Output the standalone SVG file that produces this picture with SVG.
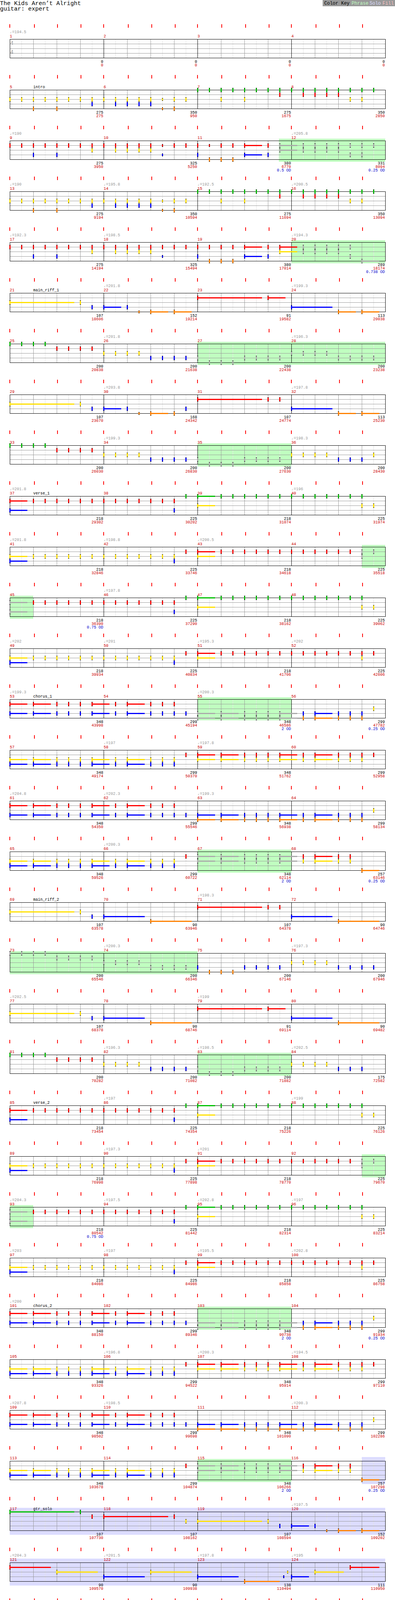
<svg xmlns="http://www.w3.org/2000/svg" width="1010" height="5055" viewBox="0 0 1010 5055">
<style>
text{font-family:"Liberation Mono","DejaVu Sans Mono",monospace;font-size:10px}
.m{fill:#c00}.p{fill:#999}.a{text-anchor:end}.b{text-anchor:end;fill:#c00}.d{text-anchor:end;fill:#00c}.e{text-anchor:end;fill:#060}
.ts{fill:#999;font-size:14px}.big{font-size:15px}.ck{font-size:12px}.ft{font-size:11.6px}
.G{fill:#00c000;stroke:#00c000}.R{fill:#f00;stroke:#f00}.Y{fill:#ffe000;stroke:#ffe000}.B{fill:#00f;stroke:#00f}.O{fill:#ff8000;stroke:#ff8000}.X{fill:#aaa;stroke:#aaa}
.s{stroke-width:3;fill:none}
.hp{fill:#c0ffc0}.hs{fill:#dcdcff}
</style>
<defs>
<g id="h" stroke="none"><rect x="-1" y="-5.5" width="3" height="11" fill="#000"/><rect x="-1" y="-4.5" width="3" height="9"/></g>
<g id="k" stroke="none"><rect x="-1" y="-3.5" width="3" height="7" fill="#000"/><rect x="-1" y="-2.5" width="3" height="5"/></g>
<g id="q"><path class="s" d="M0 0h45"/><use href="#h"/></g>
<g id="e4"><use href="#h"/><use href="#h" x="30"/><use href="#h" x="60"/><use href="#h" x="90"/></g>
<g id="e8"><use href="#e4"/><use href="#e4" x="120"/></g>
<g id="staff" fill="none">
<path stroke="#e2e2e2" d="M55.5 0v48M115.5 0v48M175.5 0v48M235.5 0v48M295.5 0v48M355.5 0v48M415.5 0v48M475.5 0v48M535.5 0v48M595.5 0v48M655.5 0v48M715.5 0v48M775.5 0v48M835.5 0v48M895.5 0v48M955.5 0v48"/>
<path stroke="#999" d="M85.5 0v48M145.5 0v48M205.5 0v48M325.5 0v48M385.5 0v48M445.5 0v48M565.5 0v48M625.5 0v48M685.5 0v48M805.5 0v48M865.5 0v48M925.5 0v48M25 12.5h960M25 24.5h960M25 36.5h960"/>
<path stroke="#000" d="M265.5 0v48M505.5 0v48M745.5 0v48"/>
<rect x="25.5" y="0.5" width="960" height="48" stroke="#000"/>
</g>
<path id="tk" stroke="#f00" stroke-width="2" d="M25-38v9M88-38v9M147-38v9M207-38v9M265-38v9M328-38v9M388-38v9M448-38v9M505-38v9M567-38v9M628-38v9M688-38v9M745-38v9M808-38v9M868-38v9M927-38v9"/>
<g id="pI">
<g class="G" transform="translate(0 .5)"><use href="#e8" x="505"/><use href="#e8" x="745"/></g>
<g class="R" transform="translate(0 12.5)"><use href="#h" x="715"/><use href="#e4" x="775"/></g>
<g class="Y" transform="translate(0 24.5)"><use href="#e8" x="25"/><use href="#e4" x="265"/><use href="#h" x="385"/><use href="#k" x="415"/><use href="#h" x="445"/><use href="#h" x="475"/><use href="#h" x="565"/><use href="#h" x="625"/><use href="#h" x="895"/><use href="#h" x="925"/></g>
<g class="B" transform="translate(0 36.5)"><use href="#h" x="235"/><use href="#e4" x="295"/></g>
<g class="O" transform="translate(0 48.5)"><use href="#h" x="85"/><use href="#h" x="145"/><use href="#k" x="415"/><use href="#h" x="445"/></g>
</g>
<g id="pQ">
<g class="G" transform="translate(0 .5)"><use href="#e4" x="25"/></g>
<g class="R" transform="translate(0 12.5)"><use href="#e4" x="145"/></g>
<g class="Y" transform="translate(0 24.5)"><use href="#e4" x="265"/></g>
<g class="B" transform="translate(0 36.5)"><use href="#e4" x="385"/></g>
<g class="X" transform="translate(0 36.5)"><use href="#h" x="505"/><use href="#e4" x="625"/></g>
<g class="X" transform="translate(0 48.5)"><use href="#h" x="535"/><use href="#h" x="565"/><use href="#h" x="595"/></g>
</g>
<g id="pVa">
<g class="R" transform="translate(0 12.5)"><use href="#q" x="25"/><use href="#e8" x="85"/><use href="#e4" x="325"/><use href="#h" x="445"/></g>
<g class="B" transform="translate(0 36.5)"><use href="#q" x="25"/><use href="#h" x="445"/></g>
<g class="G" transform="translate(0 .5)"><use href="#h" x="475"/><use href="#q" x="505"/><use href="#e8" x="565"/><use href="#e4" x="805"/><use href="#h" x="925"/></g>
<g class="Y" transform="translate(0 24.5)"><use href="#q" x="505"/><use href="#h" x="925"/><use href="#h" x="955"/></g>
</g>
<g id="pVb">
<g class="Y" transform="translate(0 24.5)"><use href="#q" x="25"/><use href="#e8" x="85"/><use href="#e4" x="325"/><use href="#h" x="445"/><use href="#q" x="505"/></g>
<g class="B" transform="translate(0 36.5)"><use href="#q" x="25"/><use href="#h" x="445"/></g>
<g class="R" transform="translate(0 12.5)"><use href="#h" x="475"/><use href="#q" x="505"/><use href="#e8" x="565"/><use href="#e4" x="805"/></g>
<g class="X" transform="translate(0 12.5)"><use href="#h" x="925"/><use href="#h" x="955"/></g>
<g class="X" transform="translate(0 24.5)"><use href="#h" x="925"/></g>
</g>
<g id="pVc">
<g class="X" transform="translate(0 12.5)"><use href="#q" x="25"/></g>
<g class="X" transform="translate(0 36.5)"><use href="#q" x="25"/></g>
<g class="R" transform="translate(0 12.5)"><use href="#e8" x="85"/><use href="#e4" x="325"/><use href="#h" x="445"/></g>
<g class="B" transform="translate(0 36.5)"><use href="#h" x="445"/></g>
<g class="G" transform="translate(0 .5)"><use href="#h" x="475"/><use href="#q" x="505"/><use href="#e8" x="565"/><use href="#e4" x="805"/><use href="#h" x="925"/></g>
<g class="Y" transform="translate(0 24.5)"><use href="#q" x="505"/><use href="#h" x="925"/><use href="#h" x="955"/></g>
</g>
<g id="pVd">
<g class="Y" transform="translate(0 24.5)"><use href="#q" x="25"/><use href="#e8" x="85"/><use href="#e4" x="325"/><use href="#h" x="445"/><use href="#q" x="505"/><use href="#h" x="925"/></g>
<g class="B" transform="translate(0 36.5)"><use href="#q" x="25"/><use href="#h" x="445"/></g>
<g class="R" transform="translate(0 12.5)"><use href="#h" x="475"/><use href="#q" x="505"/><use href="#e8" x="565"/><use href="#e4" x="805"/><use href="#h" x="925"/><use href="#h" x="955"/></g>
</g>
<g id="cA"><use href="#q" x="25"/><use href="#q" x="85"/><use href="#h" x="145"/><use href="#h" x="175"/><use href="#h" x="205"/><use href="#q" x="235"/><use href="#h" x="295"/><use href="#q" x="325"/><use href="#h" x="385"/><use href="#h" x="415"/><use href="#h" x="445"/></g>
<g id="cB1"><use href="#q" x="505"/><use href="#q" x="565"/><use href="#h" x="625"/><use href="#h" x="655"/><use href="#h" x="685"/><use href="#q" x="715"/></g>
<g id="cB2"><use href="#h" x="775"/><use href="#q" x="805"/><use href="#h" x="865"/><use href="#h" x="895"/><use href="#h" x="925"/></g>
<g id="pC13">
<g class="R" transform="translate(0 12.5)"><use href="#cA"/></g>
<g class="B" transform="translate(0 36.5)"><use href="#cA"/><use href="#h" x="475"/><use href="#cB2"/></g>
<g class="X" transform="translate(0 36.5)"><use href="#cB1"/></g>
<g class="X" transform="translate(0 48.5)"><use href="#cB1"/></g>
<g class="O" transform="translate(0 48.5)"><use href="#cB2"/></g>
<g class="Y" transform="translate(0 24.5)"><use href="#h" x="955"/></g>
</g>
<g id="pC14">
<g class="Y" transform="translate(0 24.5)"><use href="#cA"/><use href="#cB1"/><use href="#cB2"/></g>
<g class="B" transform="translate(0 36.5)"><use href="#cA"/></g>
<g class="R" transform="translate(0 12.5)"><use href="#h" x="475"/><use href="#cB1"/><use href="#cB2"/><use href="#h" x="955"/></g>
</g>
<g id="pC15">
<g class="R" transform="translate(0 12.5)"><use href="#cA"/></g>
<g class="B" transform="translate(0 36.5)"><use href="#cA"/><use href="#h" x="475"/><use href="#cB1"/><use href="#cB2"/></g>
<g class="O" transform="translate(0 48.5)"><use href="#cB1"/><use href="#cB2"/></g>
<g class="Y" transform="translate(0 24.5)"><use href="#h" x="955"/></g>
</g>
<g id="pC16">
<g class="Y" transform="translate(0 24.5)"><use href="#cA"/><use href="#h" x="775"/><use href="#q" x="805"/><use href="#h" x="865"/><use href="#h" x="895"/></g>
<g class="B" transform="translate(0 36.5)"><use href="#cA"/></g>
<g class="R" transform="translate(0 12.5)"><use href="#h" x="475"/><use href="#h" x="775"/><use href="#q" x="805"/><use href="#h" x="865"/><use href="#h" x="895"/></g>
<g class="X" transform="translate(0 12.5)"><use href="#cB1"/></g>
<g class="X" transform="translate(0 24.5)"><use href="#cB1"/></g>
<g class="O" transform="translate(0 48.5)"><use href="#q" x="925"/></g>
</g>
<g id="pE">
<g class="B" transform="translate(0 36.5)"><use href="#q" x="85"/><use href="#q" x="205"/><use href="#q" x="325"/><use href="#q" x="445"/><use href="#q" x="565"/><use href="#q" x="685"/><use href="#q" x="805"/><use href="#q" x="925"/></g>
<g class="O" transform="translate(0 48.5)"><use href="#q" x="25"/><use href="#q" x="145"/><use href="#q" x="265"/><use href="#q" x="385"/><use href="#q" x="505"/><use href="#q" x="625"/><use href="#q" x="745"/><use href="#q" x="865"/></g>
</g>
<g id="pR"><use href="#q" x="25"/><use href="#h" x="85"/><use href="#q" x="145"/><use href="#h" x="205"/><use href="#q" x="265"/><use href="#h" x="325"/><use href="#q" x="385"/><use href="#h" x="445"/><use href="#q" x="505"/><use href="#h" x="565"/><use href="#q" x="625"/><use href="#h" x="685"/></g>
<g id="pG"><use href="#h" x="115"/><use href="#h" x="235"/><use href="#h" x="355"/><use href="#h" x="475"/><use href="#h" x="595"/><use href="#h" x="715"/></g>
</defs>
<rect width="1010" height="5055" fill="#fff"/>
<g id="header">
<text class="big" x="0" y="13">The Kids Aren’t Alright</text>
<text class="big" x="0" y="27">guitar: expert</text>
<rect x="825" y="0" width="185" height="16" fill="#999"/>
<text class="ck" x="829" y="12">Color Key</text><text class="ck" x="899" y="12" fill="#c0ffc0">Phrase</text><text class="ck" x="945" y="12" fill="#dcdcff">Solo</text><text class="ck" x="978" y="12" fill="#ffc0c0">Fill</text>
</g>

<g id="r0" transform="translate(0 100)"><use href="#staff"/><use href="#tk"/>
<text class="ts" x="26" y="15">4</text><text class="ts" x="26" y="38">4</text>
<text class="p" x="25" y="-15">♩=194.5</text>
<text class="m" x="25" y="-4">1</text><text class="m" x="265" y="-4">2</text><text class="m" x="505" y="-4">3</text><text class="m" x="745" y="-4">4</text>
<text class="a" x="264" y="61">0</text><text class="b" x="264" y="70">0</text><text class="a" x="504" y="61">0</text><text class="b" x="504" y="70">0</text><text class="a" x="744" y="61">0</text><text class="b" x="744" y="70">0</text><text class="a" x="984" y="61">0</text><text class="b" x="984" y="70">0</text>
</g>

<g id="r1" transform="translate(0 230)"><use href="#staff"/><use href="#tk"/><use href="#pI"/>
<text x="85" y="-4">intro</text>
<text class="m" x="25" y="-4">5</text><text class="m" x="265" y="-4">6</text><text class="m" x="505" y="-4">7</text><text class="m" x="745" y="-4">8</text>
<text class="a" x="264" y="61">275</text><text class="b" x="264" y="70">275</text><text class="a" x="504" y="61">350</text><text class="b" x="504" y="70">950</text><text class="a" x="744" y="61">275</text><text class="b" x="744" y="70">1675</text><text class="a" x="984" y="61">350</text><text class="b" x="984" y="70">2850</text>
</g>

<g id="r2" transform="translate(0 360)"><rect class="hp" x="713" y="-5" width="272" height="59"/><use href="#staff"/><use href="#tk"/>
<g class="R" transform="translate(0 12.5)"><use href="#e8" x="25"/><use href="#e4" x="265"/><use href="#h" x="385"/><use href="#k" x="415"/><use href="#h" x="445"/><use href="#h" x="475"/><use href="#h" x="505"/><use href="#k" x="535"/><use href="#h" x="565"/><use href="#h" x="595"/><use href="#q" x="625"/><use href="#h" x="685"/></g>
<g class="Y" transform="translate(0 24.5)"><use href="#h" x="235"/><use href="#e4" x="295"/></g>
<g class="B" transform="translate(0 36.5)"><use href="#h" x="85"/><use href="#h" x="145"/><use href="#k" x="415"/><use href="#h" x="505"/><use href="#q" x="625"/><use href="#h" x="685"/></g>
<g class="O" transform="translate(0 48.5)"><use href="#h" x="535"/><use href="#h" x="565"/><use href="#h" x="595"/></g>
<g class="X" transform="translate(0 12.5)"><use href="#q" x="715"/><use href="#e4" x="775"/><use href="#h" x="895"/><use href="#h" x="925"/><use href="#h" x="955"/></g>
<g class="X" transform="translate(0 24.5)"><use href="#q" x="715"/><use href="#e4" x="775"/></g>
<g class="X" transform="translate(0 36.5)"><use href="#h" x="895"/><use href="#h" x="925"/></g>
<text class="p" x="25" y="-15">♩=190</text><text class="p" x="745" y="-15">♩=205.8</text>
<text class="m" x="25" y="-4">9</text><text class="m" x="265" y="-4">10</text><text class="m" x="505" y="-4">11</text><text class="m" x="745" y="-4">12</text>
<text class="a" x="264" y="61">275</text><text class="b" x="264" y="70">3950</text><text class="a" x="504" y="61">325</text><text class="b" x="504" y="70">5250</text><text class="a" x="744" y="61">380</text><text class="b" x="744" y="70">6770</text><text class="d" x="744" y="79">0.5 OD</text><text class="a" x="984" y="61">331</text><text class="b" x="984" y="70">8094</text><text class="d" x="984" y="79">0.25 OD</text>
</g>

<g id="r3" transform="translate(0 490)"><use href="#staff"/><use href="#tk"/><use href="#pI"/>
<text class="p" x="25" y="-15">♩=190</text><text class="p" x="265" y="-15">♩=195.8</text><text class="p" x="505" y="-15">♩=192.5</text><text class="p" x="745" y="-15">♩=200.5</text>
<text class="m" x="25" y="-4">13</text><text class="m" x="265" y="-4">14</text><text class="m" x="505" y="-4">15</text><text class="m" x="745" y="-4">16</text>
<text class="a" x="264" y="61">275</text><text class="b" x="264" y="70">9194</text><text class="a" x="504" y="61">350</text><text class="b" x="504" y="70">10594</text><text class="a" x="744" y="61">275</text><text class="b" x="744" y="70">11694</text><text class="a" x="984" y="61">350</text><text class="b" x="984" y="70">13094</text>
</g>

<g id="r4" transform="translate(0 620)"><rect class="hp" x="745" y="-5" width="240" height="59"/><use href="#staff"/><use href="#tk"/>
<g class="R" transform="translate(0 12.5)"><use href="#e8" x="25"/><use href="#e8" x="265"/><use href="#e4" x="505"/><use href="#q" x="625"/><use href="#h" x="685"/><use href="#q" x="715"/></g>
<g class="Y" transform="translate(0 24.5)"><use href="#h" x="235"/><use href="#e4" x="295"/><use href="#q" x="715"/></g>
<g class="B" transform="translate(0 36.5)"><use href="#h" x="85"/><use href="#h" x="145"/><use href="#k" x="415"/><use href="#h" x="505"/><use href="#q" x="625"/><use href="#h" x="685"/></g>
<g class="O" transform="translate(0 48.5)"><use href="#h" x="535"/><use href="#h" x="565"/><use href="#h" x="595"/></g>
<g class="X" transform="translate(0 12.5)"><use href="#e4" x="775"/><use href="#h" x="895"/></g>
<g class="X" transform="translate(0 24.5)"><use href="#e4" x="775"/></g>
<g class="X" transform="translate(0 36.5)"><use href="#h" x="895"/></g>
<g class="X" transform="translate(0 48.5)"><use href="#q" x="925"/></g>
<text class="p" x="25" y="-15">♩=192.3</text><text class="p" x="265" y="-15">♩=198.5</text><text class="p" x="745" y="-15">♩=194.3</text>
<text class="m" x="25" y="-4">17</text><text class="m" x="265" y="-4">18</text><text class="m" x="505" y="-4">19</text><text class="m" x="745" y="-4">20</text>
<text class="a" x="264" y="61">275</text><text class="b" x="264" y="70">14194</text><text class="a" x="504" y="61">325</text><text class="b" x="504" y="70">15494</text><text class="a" x="744" y="61">380</text><text class="b" x="744" y="70">17014</text><text class="a" x="984" y="61">289</text><text class="b" x="984" y="70">18174</text><text class="d" x="984" y="79">0.738 OD</text>
</g>

<g id="r5" transform="translate(0 750)"><use href="#staff"/><use href="#tk"/>
<g class="Y" transform="translate(0 24.5)"><path class="s" d="M25 0h165"/><use href="#h" x="25"/><use href="#h" x="205"/></g>
<g class="B" transform="translate(0 36.5)"><path class="s" d="M745 0h105"/><use href="#h" x="235"/><use href="#q" x="265"/><use href="#h" x="325"/><use href="#h" x="745"/></g>
<g class="O" transform="translate(0 48.5)"><use href="#k" x="355"/><use href="#q" x="385"/><use href="#q" x="445"/><use href="#q" x="865"/><use href="#q" x="925"/></g>
<g class="R" transform="translate(0 12.5)"><path class="s" d="M505 0h165"/><use href="#h" x="505"/><use href="#q" x="685"/></g>
<text x="85" y="-4">main_riff_1</text>
<text class="p" x="265" y="-15">♩=201.8</text><text class="p" x="745" y="-15">♩=199.3</text>
<text class="m" x="25" y="-4">21</text><text class="m" x="265" y="-4">22</text><text class="m" x="505" y="-4">23</text><text class="m" x="745" y="-4">24</text>
<text class="a" x="264" y="61">107</text><text class="b" x="264" y="70">18606</text><text class="a" x="504" y="61">152</text><text class="b" x="504" y="70">19214</text><text class="a" x="744" y="61">91</text><text class="b" x="744" y="70">19582</text><text class="a" x="984" y="61">113</text><text class="b" x="984" y="70">20038</text>
</g>

<g id="r6" transform="translate(0 880)"><rect class="hp" x="505" y="-5" width="480" height="59"/><use href="#staff"/><use href="#tk"/><use href="#pQ"/>
<g class="X" transform="translate(0 24.5)"><use href="#e4" x="745"/></g>
<g class="X" transform="translate(0 36.5)"><use href="#e4" x="865"/></g>
<text class="p" x="265" y="-15">♩=201.8</text><text class="p" x="745" y="-15">♩=196.3</text>
<text class="m" x="25" y="-4">25</text><text class="m" x="265" y="-4">26</text><text class="m" x="505" y="-4">27</text><text class="m" x="745" y="-4">28</text>
<text class="a" x="264" y="61">200</text><text class="b" x="264" y="70">20838</text><text class="a" x="504" y="61">200</text><text class="b" x="504" y="70">21638</text><text class="a" x="744" y="61">200</text><text class="b" x="744" y="70">22438</text><text class="a" x="984" y="61">200</text><text class="b" x="984" y="70">23238</text>
</g>

<g id="r7" transform="translate(0 1010)"><use href="#staff"/><use href="#tk"/>
<g class="Y" transform="translate(0 24.5)"><path class="s" d="M25 0h165"/><use href="#h" x="25"/><use href="#h" x="205"/></g>
<g class="B" transform="translate(0 36.5)"><path class="s" d="M745 0h105"/><use href="#h" x="235"/><use href="#q" x="265"/><use href="#h" x="325"/><use href="#h" x="475"/><use href="#h" x="745"/></g>
<g class="O" transform="translate(0 48.5)"><use href="#k" x="355"/><use href="#q" x="385"/><use href="#h" x="445"/><use href="#q" x="865"/><use href="#q" x="925"/></g>
<g class="R" transform="translate(0 12.5)"><path class="s" d="M505 0h165"/><use href="#h" x="505"/><use href="#h" x="685"/><use href="#h" x="715"/></g>
<text class="p" x="265" y="-15">♩=203.8</text><text class="p" x="745" y="-15">♩=197.8</text>
<text class="m" x="25" y="-4">29</text><text class="m" x="265" y="-4">30</text><text class="m" x="505" y="-4">31</text><text class="m" x="745" y="-4">32</text>
<text class="a" x="264" y="61">107</text><text class="b" x="264" y="70">23670</text><text class="a" x="504" y="61">168</text><text class="b" x="504" y="70">24342</text><text class="a" x="744" y="61">107</text><text class="b" x="744" y="70">24774</text><text class="a" x="984" y="61">113</text><text class="b" x="984" y="70">25230</text>
</g>

<g id="r8" transform="translate(0 1140)"><rect class="hp" x="505" y="-5" width="240" height="59"/><use href="#staff"/><use href="#tk"/><use href="#pQ"/>
<g class="Y" transform="translate(0 24.5)"><use href="#e4" x="745"/><use href="#h" x="955"/></g>
<g class="B" transform="translate(0 36.5)"><use href="#h" x="865"/><use href="#h" x="895"/><use href="#h" x="925"/></g>
<text class="p" x="265" y="-15">♩=199.3</text><text class="p" x="745" y="-15">♩=198.3</text>
<text class="m" x="25" y="-4">33</text><text class="m" x="265" y="-4">34</text><text class="m" x="505" y="-4">35</text><text class="m" x="745" y="-4">36</text>
<text class="a" x="264" y="61">200</text><text class="b" x="264" y="70">26030</text><text class="a" x="504" y="61">200</text><text class="b" x="504" y="70">26830</text><text class="a" x="744" y="61">200</text><text class="b" x="744" y="70">27630</text><text class="a" x="984" y="61">200</text><text class="b" x="984" y="70">28430</text>
</g>

<g id="r9" transform="translate(0 1270)"><use href="#staff"/><use href="#tk"/><use href="#pVa"/>
<text x="85" y="-4">verse_1</text>
<text class="p" x="25" y="-15">♩=201.8</text><text class="p" x="745" y="-15">♩=196</text>
<text class="m" x="25" y="-4">37</text><text class="m" x="265" y="-4">38</text><text class="m" x="505" y="-4">39</text><text class="m" x="745" y="-4">40</text>
<text class="a" x="264" y="61">218</text><text class="b" x="264" y="70">29302</text><text class="a" x="504" y="61">225</text><text class="b" x="504" y="70">30202</text><text class="a" x="744" y="61">218</text><text class="b" x="744" y="70">31074</text><text class="a" x="984" y="61">225</text><text class="b" x="984" y="70">31974</text>
</g>

<g id="r10" transform="translate(0 1400)"><rect class="hp" x="925" y="-5" width="60" height="59"/><use href="#staff"/><use href="#tk"/><use href="#pVb"/>
<text class="p" x="25" y="-15">♩=201.8</text><text class="p" x="265" y="-15">♩=198.8</text><text class="p" x="505" y="-15">♩=200.5</text>
<text class="m" x="25" y="-4">41</text><text class="m" x="265" y="-4">42</text><text class="m" x="505" y="-4">43</text><text class="m" x="745" y="-4">44</text>
<text class="a" x="264" y="61">218</text><text class="b" x="264" y="70">32846</text><text class="a" x="504" y="61">225</text><text class="b" x="504" y="70">33746</text><text class="a" x="744" y="61">218</text><text class="b" x="744" y="70">34618</text><text class="a" x="984" y="61">225</text><text class="b" x="984" y="70">35518</text>
</g>

<g id="r11" transform="translate(0 1530)"><rect class="hp" x="25" y="-5" width="60" height="59"/><use href="#staff"/><use href="#tk"/><use href="#pVc"/>
<text class="p" x="265" y="-15">♩=197.8</text>
<text class="m" x="25" y="-4">45</text><text class="m" x="265" y="-4">46</text><text class="m" x="505" y="-4">47</text><text class="m" x="745" y="-4">48</text>
<text class="a" x="264" y="61">218</text><text class="b" x="264" y="70">36390</text><text class="d" x="264" y="79">0.75 OD</text><text class="a" x="504" y="61">225</text><text class="b" x="504" y="70">37290</text><text class="a" x="744" y="61">218</text><text class="b" x="744" y="70">38162</text><text class="a" x="984" y="61">225</text><text class="b" x="984" y="70">39062</text>
</g>

<g id="r12" transform="translate(0 1660)"><use href="#staff"/><use href="#tk"/><use href="#pVd"/>
<text class="p" x="25" y="-15">♩=202</text><text class="p" x="265" y="-15">♩=201</text><text class="p" x="505" y="-15">♩=195.3</text><text class="p" x="745" y="-15">♩=202</text>
<text class="m" x="25" y="-4">49</text><text class="m" x="265" y="-4">50</text><text class="m" x="505" y="-4">51</text><text class="m" x="745" y="-4">52</text>
<text class="a" x="264" y="61">218</text><text class="b" x="264" y="70">39934</text><text class="a" x="504" y="61">225</text><text class="b" x="504" y="70">40834</text><text class="a" x="744" y="61">218</text><text class="b" x="744" y="70">41706</text><text class="a" x="984" y="61">225</text><text class="b" x="984" y="70">42606</text>
</g>

<g id="r13" transform="translate(0 1790)"><rect class="hp" x="505" y="-5" width="240" height="59"/><use href="#staff"/><use href="#tk"/><use href="#pC13"/>
<text x="85" y="-4">chorus_1</text>
<text class="p" x="25" y="-15">♩=199.3</text><text class="p" x="505" y="-15">♩=200.3</text>
<text class="m" x="25" y="-4">53</text><text class="m" x="265" y="-4">54</text><text class="m" x="505" y="-4">55</text><text class="m" x="745" y="-4">56</text>
<text class="a" x="264" y="61">348</text><text class="b" x="264" y="70">43998</text><text class="a" x="504" y="61">299</text><text class="b" x="504" y="70">45194</text><text class="a" x="744" y="61">348</text><text class="b" x="744" y="70">46586</text><text class="d" x="744" y="79">2 OD</text><text class="a" x="984" y="61">299</text><text class="b" x="984" y="70">47782</text><text class="d" x="984" y="79">0.25 OD</text>
</g>

<g id="r14" transform="translate(0 1920)"><use href="#staff"/><use href="#tk"/><use href="#pC14"/>
<text class="p" x="265" y="-15">♩=197</text><text class="p" x="505" y="-15">♩=197.8</text>
<text class="m" x="25" y="-4">57</text><text class="m" x="265" y="-4">58</text><text class="m" x="505" y="-4">59</text><text class="m" x="745" y="-4">60</text>
<text class="a" x="264" y="61">348</text><text class="b" x="264" y="70">49174</text><text class="a" x="504" y="61">299</text><text class="b" x="504" y="70">50370</text><text class="a" x="744" y="61">348</text><text class="b" x="744" y="70">51762</text><text class="a" x="984" y="61">299</text><text class="b" x="984" y="70">52958</text>
</g>

<g id="r15" transform="translate(0 2050)"><use href="#staff"/><use href="#tk"/><use href="#pC15"/>
<text class="p" x="25" y="-15">♩=204.8</text><text class="p" x="265" y="-15">♩=202.3</text><text class="p" x="505" y="-15">♩=199.3</text>
<text class="m" x="25" y="-4">61</text><text class="m" x="265" y="-4">62</text><text class="m" x="505" y="-4">63</text><text class="m" x="745" y="-4">64</text>
<text class="a" x="264" y="61">348</text><text class="b" x="264" y="70">54350</text><text class="a" x="504" y="61">299</text><text class="b" x="504" y="70">55546</text><text class="a" x="744" y="61">348</text><text class="b" x="744" y="70">56938</text><text class="a" x="984" y="61">299</text><text class="b" x="984" y="70">58134</text>
</g>

<g id="r16" transform="translate(0 2180)"><rect class="hp" x="505" y="-5" width="240" height="59"/><use href="#staff"/><use href="#tk"/><use href="#pC16"/>
<text class="p" x="265" y="-15">♩=200.3</text>
<text class="m" x="25" y="-4">65</text><text class="m" x="265" y="-4">66</text><text class="m" x="505" y="-4">67</text><text class="m" x="745" y="-4">68</text>
<text class="a" x="264" y="61">348</text><text class="b" x="264" y="70">59526</text><text class="a" x="504" y="61">299</text><text class="b" x="504" y="70">60722</text><text class="a" x="744" y="61">348</text><text class="b" x="744" y="70">62114</text><text class="d" x="744" y="79">2 OD</text><text class="a" x="984" y="61">257</text><text class="b" x="984" y="70">63146</text><text class="d" x="984" y="79">0.25 OD</text>
</g>

<g id="r17" transform="translate(0 2310)"><use href="#staff"/><use href="#tk"/>
<g class="Y" transform="translate(0 24.5)"><path class="s" d="M25 0h165"/><use href="#h" x="25"/><use href="#h" x="205"/></g>
<g class="B" transform="translate(0 36.5)"><path class="s" d="M265 0h105M745 0h105"/><use href="#h" x="235"/><use href="#h" x="265"/><use href="#h" x="745"/></g>
<g class="O" transform="translate(0 48.5)"><path class="s" d="M385 0h105M865 0h105"/><use href="#h" x="385"/><use href="#h" x="865"/></g>
<g class="R" transform="translate(0 12.5)"><path class="s" d="M505 0h165"/><use href="#h" x="505"/><use href="#h" x="685"/><use href="#h" x="715"/></g>
<text x="85" y="-4">main_riff_2</text>
<text class="p" x="505" y="-15">♩=198.3</text>
<text class="m" x="25" y="-4">69</text><text class="m" x="265" y="-4">70</text><text class="m" x="505" y="-4">71</text><text class="m" x="745" y="-4">72</text>
<text class="a" x="264" y="61">107</text><text class="b" x="264" y="70">63578</text><text class="a" x="504" y="61">90</text><text class="b" x="504" y="70">63946</text><text class="a" x="744" y="61">107</text><text class="b" x="744" y="70">64378</text><text class="a" x="984" y="61">90</text><text class="b" x="984" y="70">64746</text>
</g>

<g id="r18" transform="translate(0 2440)"><rect class="hp" x="25" y="-5" width="480" height="59"/><use href="#staff"/><use href="#tk"/>
<g class="X" transform="translate(0 .5)"><use href="#e4" x="25"/></g>
<g class="X" transform="translate(0 12.5)"><use href="#e4" x="145"/></g>
<g class="X" transform="translate(0 24.5)"><use href="#e4" x="265"/></g>
<g class="X" transform="translate(0 36.5)"><use href="#e4" x="385"/></g>
<g class="B" transform="translate(0 36.5)"><use href="#h" x="505"/><use href="#e4" x="625"/><use href="#e4" x="865"/></g>
<g class="O" transform="translate(0 48.5)"><use href="#h" x="535"/><use href="#h" x="565"/><use href="#h" x="595"/></g>
<g class="Y" transform="translate(0 24.5)"><use href="#e4" x="745"/></g>
<text class="p" x="265" y="-15">♩=200.3</text><text class="p" x="745" y="-15">♩=197.3</text>
<text class="m" x="25" y="-4">73</text><text class="m" x="265" y="-4">74</text><text class="m" x="505" y="-4">75</text><text class="m" x="745" y="-4">76</text>
<text class="a" x="264" y="61">200</text><text class="b" x="264" y="70">65546</text><text class="a" x="504" y="61">200</text><text class="b" x="504" y="70">66346</text><text class="a" x="744" y="61">200</text><text class="b" x="744" y="70">67146</text><text class="a" x="984" y="61">200</text><text class="b" x="984" y="70">67946</text>
</g>

<g id="r19" transform="translate(0 2570)"><use href="#staff"/><use href="#tk"/>
<g class="Y" transform="translate(0 24.5)"><path class="s" d="M25 0h165"/><use href="#h" x="25"/><use href="#h" x="205"/></g>
<g class="B" transform="translate(0 36.5)"><path class="s" d="M265 0h105M745 0h105"/><use href="#h" x="235"/><use href="#h" x="265"/><use href="#h" x="745"/></g>
<g class="O" transform="translate(0 48.5)"><path class="s" d="M385 0h105M865 0h105"/><use href="#h" x="385"/><use href="#h" x="865"/></g>
<g class="R" transform="translate(0 12.5)"><path class="s" d="M505 0h165"/><use href="#h" x="505"/><use href="#q" x="685"/></g>
<text class="p" x="25" y="-15">♩=202.5</text><text class="p" x="505" y="-15">♩=199</text>
<text class="m" x="25" y="-4">77</text><text class="m" x="265" y="-4">78</text><text class="m" x="505" y="-4">79</text><text class="m" x="745" y="-4">80</text>
<text class="a" x="264" y="61">107</text><text class="b" x="264" y="70">68378</text><text class="a" x="504" y="61">90</text><text class="b" x="504" y="70">68746</text><text class="a" x="744" y="61">91</text><text class="b" x="744" y="70">69114</text><text class="a" x="984" y="61">90</text><text class="b" x="984" y="70">69482</text>
</g>

<g id="r20" transform="translate(0 2700)"><rect class="hp" x="505" y="-5" width="240" height="59"/><use href="#staff"/><use href="#tk"/><use href="#pQ"/>
<g class="Y" transform="translate(0 24.5)"><use href="#e4" x="745"/></g>
<g class="B" transform="translate(0 36.5)"><use href="#h" x="865"/><use href="#h" x="895"/><use href="#h" x="925"/></g>
<text class="p" x="265" y="-15">♩=196.3</text><text class="p" x="505" y="-15">♩=198.5</text><text class="p" x="745" y="-15">♩=202.5</text>
<text class="m" x="25" y="-4">81</text><text class="m" x="265" y="-4">82</text><text class="m" x="505" y="-4">83</text><text class="m" x="745" y="-4">84</text>
<text class="a" x="264" y="61">200</text><text class="b" x="264" y="70">70282</text><text class="a" x="504" y="61">200</text><text class="b" x="504" y="70">71082</text><text class="a" x="744" y="61">200</text><text class="b" x="744" y="70">71882</text><text class="a" x="984" y="61">175</text><text class="b" x="984" y="70">72582</text>
</g>

<g id="r21" transform="translate(0 2830)"><use href="#staff"/><use href="#tk"/><use href="#pVa"/>
<text x="85" y="-4">verse_2</text>
<text class="p" x="265" y="-15">♩=197</text><text class="p" x="745" y="-15">♩=199</text>
<text class="m" x="25" y="-4">85</text><text class="m" x="265" y="-4">86</text><text class="m" x="505" y="-4">87</text><text class="m" x="745" y="-4">88</text>
<text class="a" x="264" y="61">218</text><text class="b" x="264" y="70">73454</text><text class="a" x="504" y="61">225</text><text class="b" x="504" y="70">74354</text><text class="a" x="744" y="61">218</text><text class="b" x="744" y="70">75226</text><text class="a" x="984" y="61">225</text><text class="b" x="984" y="70">76126</text>
</g>

<g id="r22" transform="translate(0 2960)"><rect class="hp" x="925" y="-5" width="60" height="59"/><use href="#staff"/><use href="#tk"/><use href="#pVb"/>
<text class="p" x="265" y="-15">♩=197.3</text><text class="p" x="505" y="-15">♩=201</text>
<text class="m" x="25" y="-4">89</text><text class="m" x="265" y="-4">90</text><text class="m" x="505" y="-4">91</text><text class="m" x="745" y="-4">92</text>
<text class="a" x="264" y="61">218</text><text class="b" x="264" y="70">76998</text><text class="a" x="504" y="61">225</text><text class="b" x="504" y="70">77898</text><text class="a" x="744" y="61">218</text><text class="b" x="744" y="70">78770</text><text class="a" x="984" y="61">225</text><text class="b" x="984" y="70">79670</text>
</g>

<g id="r23" transform="translate(0 3090)"><rect class="hp" x="25" y="-5" width="60" height="59"/><use href="#staff"/><use href="#tk"/><use href="#pVc"/>
<text class="p" x="25" y="-15">♩=204.3</text><text class="p" x="265" y="-15">♩=197.5</text><text class="p" x="505" y="-15">♩=202.8</text><text class="p" x="745" y="-15">♩=197</text>
<text class="m" x="25" y="-4">93</text><text class="m" x="265" y="-4">94</text><text class="m" x="505" y="-4">95</text><text class="m" x="745" y="-4">96</text>
<text class="a" x="264" y="61">218</text><text class="b" x="264" y="70">80542</text><text class="d" x="264" y="79">0.75 OD</text><text class="a" x="504" y="61">225</text><text class="b" x="504" y="70">81442</text><text class="a" x="744" y="61">218</text><text class="b" x="744" y="70">82314</text><text class="a" x="984" y="61">225</text><text class="b" x="984" y="70">83214</text>
</g>

<g id="r24" transform="translate(0 3220)"><use href="#staff"/><use href="#tk"/><use href="#pVd"/>
<text class="p" x="25" y="-15">♩=203</text><text class="p" x="265" y="-15">♩=197</text><text class="p" x="505" y="-15">♩=195.5</text><text class="p" x="745" y="-15">♩=202.8</text>
<text class="m" x="25" y="-4">97</text><text class="m" x="265" y="-4">98</text><text class="m" x="505" y="-4">99</text><text class="m" x="745" y="-4">100</text>
<text class="a" x="264" y="61">218</text><text class="b" x="264" y="70">84086</text><text class="a" x="504" y="61">225</text><text class="b" x="504" y="70">84986</text><text class="a" x="744" y="61">218</text><text class="b" x="744" y="70">85858</text><text class="a" x="984" y="61">225</text><text class="b" x="984" y="70">86758</text>
</g>

<g id="r25" transform="translate(0 3350)"><rect class="hp" x="505" y="-5" width="240" height="59"/><use href="#staff"/><use href="#tk"/><use href="#pC13"/>
<text x="85" y="-4">chorus_2</text>
<text class="p" x="25" y="-15">♩=200</text>
<text class="m" x="25" y="-4">101</text><text class="m" x="265" y="-4">102</text><text class="m" x="505" y="-4">103</text><text class="m" x="745" y="-4">104</text>
<text class="a" x="264" y="61">348</text><text class="b" x="264" y="70">88150</text><text class="a" x="504" y="61">299</text><text class="b" x="504" y="70">89346</text><text class="a" x="744" y="61">348</text><text class="b" x="744" y="70">90738</text><text class="d" x="744" y="79">2 OD</text><text class="a" x="984" y="61">299</text><text class="b" x="984" y="70">91934</text><text class="d" x="984" y="79">0.25 OD</text>
</g>

<g id="r26" transform="translate(0 3480)"><use href="#staff"/><use href="#tk"/><use href="#pC14"/>
<text class="p" x="265" y="-15">♩=196.8</text><text class="p" x="505" y="-15">♩=200.3</text><text class="p" x="745" y="-15">♩=194.5</text>
<text class="m" x="25" y="-4">105</text><text class="m" x="265" y="-4">106</text><text class="m" x="505" y="-4">107</text><text class="m" x="745" y="-4">108</text>
<text class="a" x="264" y="61">348</text><text class="b" x="264" y="70">93326</text><text class="a" x="504" y="61">299</text><text class="b" x="504" y="70">94522</text><text class="a" x="744" y="61">348</text><text class="b" x="744" y="70">95914</text><text class="a" x="984" y="61">299</text><text class="b" x="984" y="70">97110</text>
</g>

<g id="r27" transform="translate(0 3610)"><use href="#staff"/><use href="#tk"/><use href="#pC15"/>
<text class="p" x="25" y="-15">♩=207.8</text><text class="p" x="265" y="-15">♩=198.5</text><text class="p" x="745" y="-15">♩=200.3</text>
<text class="m" x="25" y="-4">109</text><text class="m" x="265" y="-4">110</text><text class="m" x="505" y="-4">111</text><text class="m" x="745" y="-4">112</text>
<text class="a" x="264" y="61">348</text><text class="b" x="264" y="70">98502</text><text class="a" x="504" y="61">299</text><text class="b" x="504" y="70">99698</text><text class="a" x="744" y="61">348</text><text class="b" x="744" y="70">101090</text><text class="a" x="984" y="61">299</text><text class="b" x="984" y="70">102286</text>
</g>

<g id="r28" transform="translate(0 3740)"><rect class="hs" x="925" y="-10" width="60" height="69"/><rect class="hp" x="505" y="-5" width="240" height="59"/><use href="#staff"/><use href="#tk"/><use href="#pC16"/>
<text class="m" x="25" y="-4">113</text><text class="m" x="265" y="-4">114</text><text class="m" x="505" y="-4">115</text><text class="m" x="745" y="-4">116</text>
<text class="a" x="264" y="61">348</text><text class="b" x="264" y="70">103678</text><text class="a" x="504" y="61">299</text><text class="b" x="504" y="70">104874</text><text class="a" x="744" y="61">348</text><text class="b" x="744" y="70">106266</text><text class="d" x="744" y="79">2 OD</text><text class="a" x="984" y="61">257</text><text class="b" x="984" y="70">107298</text><text class="d" x="984" y="79">0.25 OD</text>
</g>

<g id="r29" transform="translate(0 3870)"><rect class="hs" x="25" y="-10" width="960" height="69"/><use href="#staff"/><use href="#tk"/>
<g class="G" transform="translate(0 .5)"><path class="s" d="M25 0h165"/><use href="#h" x="25"/><use href="#h" x="205"/></g>
<g class="R" transform="translate(0 12.5)"><path class="s" d="M265 0h165"/><use href="#h" x="235"/><use href="#h" x="265"/><use href="#h" x="445"/></g>
<g class="Y" transform="translate(0 24.5)"><path class="s" d="M505 0h165"/><use href="#h" x="475"/><use href="#h" x="505"/><use href="#h" x="685"/></g>
<g class="B" transform="translate(0 36.5)"><use href="#h" x="715"/><use href="#q" x="745"/><use href="#h" x="805"/></g>
<g class="O" transform="translate(0 48.5)"><use href="#k" x="835"/><use href="#q" x="865"/><use href="#q" x="925"/></g>
<text x="85" y="-4">gtr_solo</text>
<text class="p" x="745" y="-15">♩=197.5</text>
<text class="m" x="25" y="-4">117</text><text class="m" x="265" y="-4">118</text><text class="m" x="505" y="-4">119</text><text class="m" x="745" y="-4">120</text>
<text class="a" x="264" y="61">107</text><text class="b" x="264" y="70">107730</text><text class="a" x="504" y="61">107</text><text class="b" x="504" y="70">108162</text><text class="a" x="744" y="61">107</text><text class="b" x="744" y="70">108594</text><text class="a" x="984" y="61">152</text><text class="b" x="984" y="70">109202</text>
</g>

<g id="r30" transform="translate(0 4000)"><rect class="hs" x="25" y="-10" width="960" height="69"/><use href="#staff"/><use href="#tk"/>
<g class="R" transform="translate(0 12.5)"><path class="s" d="M25 0h105M895 0h75"/><use href="#h" x="25"/><use href="#h" x="895"/></g>
<g class="Y" transform="translate(0 24.5)"><path class="s" d="M145 0h105M385 0h105M805 0h74"/><use href="#h" x="145"/><use href="#h" x="385"/><use href="#k" x="735"/><use href="#h" x="805"/></g>
<g class="B" transform="translate(0 36.5)"><path class="s" d="M265 0h105M505 0h105"/><use href="#h" x="265"/><use href="#h" x="505"/><use href="#k" x="725"/><use href="#q" x="745"/></g>
<g class="O" transform="translate(0 48.5)"><path class="s" d="M625 0h90"/><use href="#h" x="625"/></g>
<text class="p" x="25" y="-15">♩=204.3</text><text class="p" x="265" y="-15">♩=201.5</text><text class="p" x="505" y="-15">♩=197.8</text><text class="p" x="745" y="-15">♩=195</text>
<text class="m" x="25" y="-4">121</text><text class="m" x="265" y="-4">122</text><text class="m" x="505" y="-4">123</text><text class="m" x="745" y="-4">124</text>
<text class="a" x="264" y="61">90</text><text class="b" x="264" y="70">109570</text><text class="a" x="504" y="61">90</text><text class="b" x="504" y="70">109938</text><text class="a" x="744" y="61">138</text><text class="b" x="744" y="70">110494</text><text class="a" x="984" y="61">111</text><text class="b" x="984" y="70">110950</text>
</g>

<g id="r31" transform="translate(0 4130)"><rect class="hs" x="25" y="-10" width="960" height="69"/><rect class="hp" x="25" y="-5" width="480" height="59"/><use href="#staff"/><use href="#tk"/>
<g class="X" transform="translate(0 36.5)"><use href="#h" x="25"/><use href="#h" x="145"/><use href="#h" x="265"/><use href="#h" x="415"/></g>
<g class="X" transform="translate(0 48.5)"><use href="#h" x="55"/><use href="#h" x="85"/><use href="#h" x="115"/><use href="#h" x="175"/><use href="#h" x="205"/><use href="#h" x="235"/><use href="#e4" x="295"/></g>
<g class="X" transform="translate(0 24.5)"><use href="#h" x="445"/></g>
<g class="X" transform="translate(0 12.5)"><use href="#h" x="475"/></g>
<g class="Y" transform="translate(0 24.5)"><use href="#h" x="505"/><use href="#q" x="565"/><use href="#h" x="625"/></g>
<g class="B" transform="translate(0 36.5)"><use href="#h" x="535"/></g>
<g class="R" transform="translate(0 12.5)"><path class="s" d="M730 0h60"/><use href="#h" x="655"/><use href="#h" x="685"/><use href="#h" x="730"/><use href="#q" x="925"/></g>
<g class="G" transform="translate(0 .5)"><path class="s" d="M805 0h105"/><use href="#h" x="715"/><use href="#h" x="805"/></g>
<text class="p" x="25" y="-15">♩=204</text><text class="p" x="265" y="-15">♩=199.3</text>
<text class="m" x="25" y="-4">125</text><text class="m" x="265" y="-4">126</text><text class="m" x="505" y="-4">127</text><text class="m" x="745" y="-4">128</text>
<text class="a" x="264" y="61">200</text><text class="b" x="264" y="70">111750</text><text class="a" x="504" y="61">200</text><text class="b" x="504" y="70">112550</text><text class="a" x="744" y="61">210</text><text class="b" x="744" y="70">113398</text><text class="a" x="984" y="61">87</text><text class="b" x="984" y="70">113754</text>
</g>

<g id="r32" transform="translate(0 4260)"><rect class="hs" x="25" y="-10" width="945" height="69"/><use href="#staff"/><use href="#tk"/>
<g class="B" transform="translate(0 36.5)"><path class="s" d="M805 0h165"/><use href="#e4" x="25"/><use href="#h" x="145"/><use href="#q" x="445"/><use href="#h" x="655"/><use href="#h" x="745"/><use href="#h" x="805"/></g>
<g class="Y" transform="translate(0 24.5)"><path class="s" d="M265 0h165"/><use href="#h" x="175"/><use href="#h" x="265"/><use href="#h" x="685"/><use href="#h" x="715"/></g>
<g class="G" transform="translate(0 .5)"><use href="#h" x="205"/></g>
<g class="R" transform="translate(0 12.5)"><use href="#h" x="235"/></g>
<g class="O" transform="translate(0 48.5)"><path class="s" d="M760 0h30"/><use href="#e4" x="505"/><use href="#h" x="625"/><use href="#k" x="760"/></g>
<text x="969" y="-28">73 notes</text>
<text class="p" x="265" y="-15">♩=196.3</text><text class="p" x="505" y="-15">♩=201.8</text>
<text class="m" x="25" y="-4">129</text><text class="m" x="265" y="-4">130</text><text class="m" x="505" y="-4">131</text><text class="m" x="745" y="-4">132</text>
<text class="a" x="264" y="61">200</text><text class="b" x="264" y="70">114554</text><text class="a" x="504" y="61">90</text><text class="b" x="504" y="70">114922</text><text class="a" x="744" y="61">200</text><text class="b" x="744" y="70">115722</text><text class="a" x="984" y="61">112</text><text class="e" x="942" y="70">123478</text><text class="b" x="984" y="70">116178</text>
</g>

<g id="r33" transform="translate(0 4390)"><rect class="hp" x="745" y="-5" width="240" height="59"/><use href="#staff"/><use href="#tk"/>
<g class="R" transform="translate(0 12.5)"><use href="#pR"/></g>
<g class="G" transform="translate(0 .5)"><use href="#pG"/></g>
<g class="X" transform="translate(0 12.5)"><use href="#q" x="745"/><use href="#h" x="805"/><use href="#q" x="865"/><use href="#h" x="925"/></g>
<g class="X" transform="translate(0 .5)"><use href="#h" x="835"/><use href="#h" x="955"/></g>
<text x="85" y="-4">chorus_3</text>
<text class="p" x="25" y="-15">♩=195.8</text><text class="p" x="505" y="-15">♩=200.8</text>
<text class="m" x="25" y="-4">133</text><text class="m" x="265" y="-4">134</text><text class="m" x="505" y="-4">135</text><text class="m" x="745" y="-4">136</text>
<text class="a" x="264" y="61">166</text><text class="e" x="222" y="70">124150</text><text class="b" x="264" y="70">116850</text><text class="a" x="504" y="61">166</text><text class="e" x="462" y="70">124822</text><text class="b" x="504" y="70">117522</text><text class="a" x="744" y="61">166</text><text class="e" x="702" y="70">125494</text><text class="b" x="744" y="70">118194</text><text class="a" x="984" y="61">166</text><text class="e" x="942" y="70">126166</text><text class="b" x="984" y="70">118866</text><text class="d" x="984" y="79">1.475 OD</text>
</g>

<g id="r34" transform="translate(0 4520)"><use href="#staff"/><use href="#tk"/><use href="#pE"/>
<text class="p" x="745" y="-15">♩=195</text>
<text class="m" x="25" y="-4">137</text><text class="m" x="265" y="-4">138</text><text class="m" x="505" y="-4">139</text><text class="m" x="745" y="-4">140</text>
<text class="a" x="264" y="61">132</text><text class="e" x="222" y="70">126710</text><text class="b" x="264" y="70">119410</text><text class="a" x="504" y="61">132</text><text class="e" x="462" y="70">127254</text><text class="b" x="504" y="70">119954</text><text class="a" x="744" y="61">132</text><text class="e" x="702" y="70">127798</text><text class="b" x="744" y="70">120498</text><text class="a" x="984" y="61">132</text><text class="e" x="942" y="70">128342</text><text class="b" x="984" y="70">121042</text>
</g>

<g id="r35" transform="translate(0 4650)"><use href="#staff"/><use href="#tk"/>
<g class="R" transform="translate(0 12.5)"><use href="#pR"/><use href="#pR" x="720"/></g>
<g class="G" transform="translate(0 .5)"><use href="#pG"/><use href="#h" x="835"/><use href="#h" x="955"/></g>
<text class="p" x="25" y="-15">♩=201.8</text><text class="p" x="505" y="-15">♩=197.5</text>
<text class="m" x="25" y="-4">141</text><text class="m" x="265" y="-4">142</text><text class="m" x="505" y="-4">143</text><text class="m" x="745" y="-4">144</text>
<text class="a" x="264" y="61">166</text><text class="e" x="222" y="70">129014</text><text class="b" x="264" y="70">121714</text><text class="a" x="504" y="61">166</text><text class="e" x="462" y="70">129686</text><text class="b" x="504" y="70">122386</text><text class="a" x="744" y="61">166</text><text class="e" x="702" y="70">130358</text><text class="b" x="744" y="70">123058</text><text class="a" x="984" y="61">166</text><text class="e" x="942" y="70">131030</text><text class="b" x="984" y="70">123730</text>
</g>

<g id="r36" transform="translate(0 4780)"><use href="#staff"/><use href="#tk"/><use href="#pE"/>
<text class="p" x="25" y="-15">♩=204.8</text><text class="p" x="265" y="-15">♩=198.3</text><text class="p" x="505" y="-15">♩=202.3</text><text class="p" x="745" y="-15">♩=201</text>
<text class="m" x="25" y="-4">145</text><text class="m" x="265" y="-4">146</text><text class="m" x="505" y="-4">147</text><text class="m" x="745" y="-4">148</text>
<text class="a" x="264" y="61">132</text><text class="e" x="222" y="70">131574</text><text class="b" x="264" y="70">124274</text><text class="a" x="504" y="61">132</text><text class="e" x="462" y="70">132118</text><text class="b" x="504" y="70">124818</text><text class="a" x="744" y="61">132</text><text class="e" x="702" y="70">132662</text><text class="b" x="744" y="70">125362</text><text class="a" x="984" y="61">132</text><text class="e" x="942" y="70">133206</text><text class="b" x="984" y="70">125906</text>
</g>

<g id="r37" transform="translate(0 4910)"><use href="#staff"/><use href="#tk"/>
<g class="B" transform="translate(0 36.5)"><path class="s" d="M745 0h76"/><use href="#q" x="85"/><use href="#q" x="205"/><use href="#q" x="325"/><use href="#q" x="445"/><use href="#q" x="565"/><use href="#q" x="685"/><use href="#h" x="745"/></g>
<g class="O" transform="translate(0 48.5)"><use href="#q" x="25"/><use href="#q" x="145"/><use href="#q" x="265"/><use href="#q" x="385"/><use href="#q" x="505"/><use href="#q" x="625"/></g>
<g class="R" transform="translate(0 12.5)"><path class="s" d="M745 0h76"/><use href="#h" x="745"/></g>
<text x="85" y="-4">ending</text>
<text class="p" x="25" y="-15">♩=195.8</text><text class="p" x="265" y="-15">♩=199.3</text><text class="p" x="505" y="-15">♩=197.8</text>
<text class="m" x="25" y="-4">149</text><text class="m" x="265" y="-4">150</text><text class="m" x="505" y="-4">151</text><text class="m" x="745" y="-4">152</text>
<text class="a" x="264" y="61">132</text><text class="e" x="222" y="70">133750</text><text class="b" x="264" y="70">126450</text><text class="a" x="504" y="61">132</text><text class="e" x="462" y="70">134294</text><text class="b" x="504" y="70">126994</text><text class="a" x="744" y="61">132</text><text class="e" x="702" y="70">134838</text><text class="b" x="744" y="70">127538</text><text class="a" x="984" y="61">80</text><text class="e" x="942" y="70">135158</text><text class="b" x="984" y="70">127858</text>
</g>

<g id="footer">
<text class="ft" x="0" y="5038" fill="#555">http://charts.ajanata.com/rb/</text>
<text class="ft" x="0" y="5052" fill="#e00">WARNING: Work in progress. This information has NOT BEEN VERIFIED and MAY BE INCORRECT.</text>
<text class="ft" x="1005" y="5038" fill="#888" text-anchor="end">Generated at Fri, 26 Aug 2011 10:52:15 -0400.</text>
<text class="ft" x="1005" y="5052" fill="#888" text-anchor="end">Generated by ajanata’s Chart Generator, r299.</text>
</g>
</svg>
